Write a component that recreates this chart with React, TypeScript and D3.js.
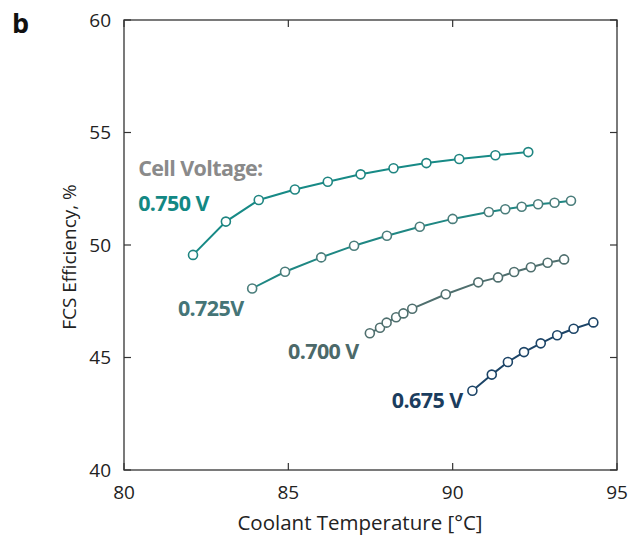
import React, { useRef, useEffect } from "react";
import * as d3 from "d3";

// coolant temperature [°C] and FCS efficiency [%] for each cell voltage
const temp750 = [82.1, 83.1, 84.1, 85.2, 86.2, 87.2, 88.2, 89.2, 90.2, 91.3, 92.3];
const eff750 = [49.56, 51.04, 52.0, 52.47, 52.81, 53.14, 53.41, 53.64, 53.82, 53.99, 54.13];
const temp725 = [83.9, 84.9, 86.0, 87.0, 88.0, 89.0, 90.0, 91.1, 91.6, 92.1, 92.6, 93.1, 93.6];
const eff725 = [48.07, 48.81, 49.45, 49.97, 50.41, 50.81, 51.16, 51.47, 51.59, 51.7, 51.81, 51.88, 51.97];
const temp700 = [87.48, 87.79, 87.99, 88.28, 88.5, 88.77, 89.79, 90.78, 91.38, 91.87, 92.38, 92.89, 93.39];
const eff700 = [46.08, 46.32, 46.55, 46.79, 46.96, 47.17, 47.81, 48.34, 48.56, 48.8, 49.01, 49.21, 49.36];
const temp675 = [90.6, 91.19, 91.68, 92.17, 92.68, 93.18, 93.68, 94.28];
const eff675 = [43.52, 44.24, 44.8, 45.24, 45.63, 45.99, 46.28, 46.56];

const voltageLabels = ["0.750 V", "0.725V", "0.700 V", "0.675 V"];
const xTicks = [80, 85, 90, 95];
const yTicks = [40, 45, 50, 55, 60];

export default function App() {
  const svgRef = useRef<SVGSVGElement>(null);

  useEffect(() => {
    const W = 629, H = 539;
    const margin = { top: 20, right: 12, bottom: 69, left: 124 };
    const width = W - margin.left - margin.right;
    const height = H - margin.top - margin.bottom;
    const font = "'Open Sans', 'Noto Sans', sans-serif";

    const svg = d3.select(svgRef.current).attr("width", W).attr("height", H);
    svg.selectAll("*").remove();
    const g = svg.append("g").attr("transform", `translate(${margin.left},${margin.top})`);

    const x = d3.scaleLinear().domain([80, 95]).range([0, width]);
    const y = d3.scaleLinear().domain([40, 60]).range([height, 0]);

    // label anchors are given in data units (temperature, efficiency)
    const series = [
      { t: temp750, e: eff750, line: "#178a86", mark: "#1f8581", label: voltageLabels[0], lx: 80.43, ly: 51.51 },
      { t: temp725, e: eff725, line: "#1f8783", mark: "#4a7d7b", label: voltageLabels[1], lx: 81.64, ly: 46.84 },
      { t: temp700, e: eff700, line: "#4f6f6e", mark: "#4f6f6e", label: voltageLabels[2], lx: 84.99, ly: 44.93 },
      { t: temp675, e: eff675, line: "#1c4467", mark: "#1c4467", label: voltageLabels[3], lx: 88.15, ly: 42.76 },
    ];
    const labelColors = ["#138884", "#457577", "#4c6969", "#1b3d5e"];

    series.forEach((s) => {
      const pts = s.t.map((t, i) => [t, s.e[i]] as [number, number]);
      g.append("path")
        .datum(pts)
        .attr("fill", "none")
        .attr("stroke", s.line)
        .attr("stroke-width", 2)
        .attr("d", d3.line<[number, number]>().x(d => x(d[0])).y(d => y(d[1])));
      g.append("g").selectAll("circle").data(pts).join("circle")
        .attr("cx", d => x(d[0]))
        .attr("cy", d => y(d[1]))
        .attr("r", 4.5)
        .attr("fill", "white")
        .attr("stroke", s.mark)
        .attr("stroke-width", 1.6);
    });

    // frame with inward ticks
    const frameColor = "#333";
    g.append("rect").attr("width", width).attr("height", height)
      .attr("fill", "none").attr("stroke", frameColor).attr("stroke-width", 1.3);
    g.append("g").selectAll("line").data(xTicks).join("line")
      .attr("x1", d => x(d)).attr("x2", d => x(d)).attr("y1", height).attr("y2", height - 7)
      .attr("stroke", frameColor).attr("stroke-width", 1.2);
    g.append("g").selectAll("line").data(xTicks).join("line")
      .attr("x1", d => x(d)).attr("x2", d => x(d)).attr("y1", 0).attr("y2", 7)
      .attr("stroke", frameColor).attr("stroke-width", 1.2);
    g.append("g").selectAll("line").data(yTicks).join("line")
      .attr("x1", 0).attr("x2", 7).attr("y1", d => y(d)).attr("y2", d => y(d))
      .attr("stroke", frameColor).attr("stroke-width", 1.2);
    g.append("g").selectAll("line").data(yTicks).join("line")
      .attr("x1", width).attr("x2", width - 7).attr("y1", d => y(d)).attr("y2", d => y(d))
      .attr("stroke", frameColor).attr("stroke-width", 1.2);

    // tick labels
    g.append("g").selectAll("text").data(xTicks).join("text")
      .attr("x", d => x(d)).attr("y", height + 29)
      .attr("text-anchor", "middle").attr("font-family", font).attr("font-size", 19).attr("fill", "#222")
      .text(d => d);
    g.append("g").selectAll("text").data(yTicks).join("text")
      .attr("x", -13).attr("y", d => y(d)).attr("dy", "0.36em")
      .attr("text-anchor", "end").attr("font-family", font).attr("font-size", 19).attr("fill", "#222")
      .text(d => d);

    // axis titles
    svg.append("text").attr("x", 360).attr("y", 530)
      .attr("text-anchor", "middle").attr("font-family", font).attr("font-size", 20.5).attr("fill", "#222")
      .text("Coolant Temperature [°C]");
    svg.append("text").attr("transform", `translate(76,257) rotate(-90)`)
      .attr("text-anchor", "middle").attr("font-family", font).attr("font-size", 19).attr("fill", "#222")
      .text("FCS Efficiency, %");
    svg.append("text").attr("x", 12).attr("y", 33)
      .attr("font-family", font).attr("font-weight", 700).attr("font-size", 27).attr("fill", "#111")
      .text("b");

    // series labels
    g.append("text").attr("x", x(80.43)).attr("y", y(53.05))
      .attr("font-family", font).attr("font-weight", 700).attr("font-size", 21.5).attr("fill", "#8a8a8a")
      .attr("letter-spacing", -0.6)
      .text("Cell Voltage:");
    series.forEach((s, i) => {
      g.append("text").attr("x", x(s.lx)).attr("y", y(s.ly))
        .attr("font-family", font).attr("font-weight", 700).attr("font-size", 21.5).attr("fill", labelColors[i])
        .attr("letter-spacing", -0.6)
        .text(s.label);
    });
  }, []);

  return (
    <div style={{ position: "absolute", left: 0, top: 0, width: 629, height: 539, background: "white" }}>
      <svg ref={svgRef} style={{ display: "block" }} />
    </div>
  );
}
